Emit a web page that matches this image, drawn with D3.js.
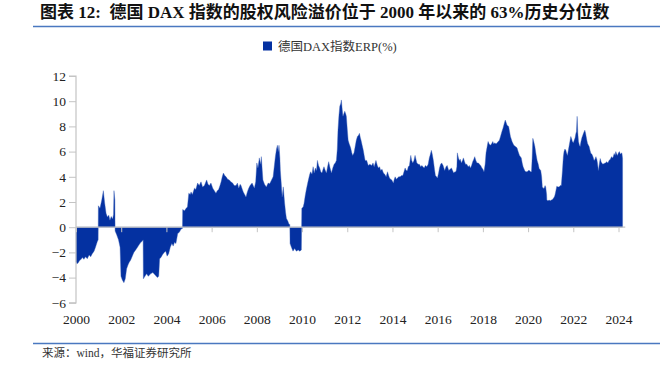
<!DOCTYPE html>
<html>
<head>
<meta charset="utf-8">
<script src="https://cdn.jsdelivr.net/npm/d3@7/dist/d3.min.js"></script>
<style>
  html, body { margin: 0; padding: 0; background: #fff; }
  svg { display: block; }
  text { font-family: "Liberation Serif", "Noto Sans CJK SC", serif; }
</style>
</head>
<body>
<svg id="chart" width="670" height="366"></svg>
<script>
// ---- data (decimal year, ERP %) ----
const dates = [
2000.00,2000.04,2000.09,2000.14,2000.18,2000.23,2000.28,2000.35,2000.42,2000.50,2000.58,2000.65,2000.72,2000.80,2000.87,2000.94,2000.98,
2000.99,2001.06,2001.14,2001.21,2001.27,2001.33,2001.39,2001.45,2001.50,2001.56,2001.62,2001.66,2001.68,2001.72,
2001.73,2001.80,2001.88,2001.95,2001.99,2002.05,2002.12,2002.18,2002.24,2002.30,2002.35,2002.42,2002.49,2002.56,2002.64,2002.72,2002.79,2002.87,2002.94,2002.97,
2002.98,2003.05,2003.12,2003.20,2003.30,2003.40,2003.50,2003.60,2003.66,2003.70,2003.76,2003.82,2003.90,2003.97,
2004.03,2004.10,2004.17,2004.24,2004.30,2004.36,2004.42,2004.50,2004.57,2004.65,2004.71,
2004.72,2004.80,2004.87,2004.93,2004.99,2005.05,2005.09,2005.15,2005.24,2005.30,2005.38,2005.45,2005.53,2005.60,2005.68,2005.78,2005.84,2005.90,2005.97,
2006.05,2006.12,2006.19,2006.25,2006.31,2006.37,2006.42,2006.47,2006.52,2006.58,2006.64,2006.71,2006.78,2006.85,2006.93,
2007.00,2007.08,2007.14,2007.20,2007.26,2007.30,2007.36,2007.40,2007.46,2007.52,2007.58,2007.64,2007.70,2007.79,2007.84,2007.89,2007.95,
2008.00,2008.05,2008.11,2008.17,2008.20,2008.24,2008.27,2008.34,2008.42,2008.50,2008.57,2008.64,2008.72,2008.77,2008.82,2008.87,2008.91,2008.95,2008.98,
2009.02,2009.04,2009.08,2009.12,2009.17,2009.23,2009.27,2009.31,2009.37,2009.41,2009.46,
2009.47,2009.53,2009.60,2009.67,2009.75,2009.83,2009.90,2009.97,
2009.99,2010.05,2010.09,2010.14,2010.19,2010.25,2010.30,2010.34,2010.38,2010.44,2010.49,2010.54,2010.59,2010.64,2010.68,2010.73,2010.78,2010.83,2010.88,2010.93,2010.97,
2011.03,2011.08,2011.13,2011.18,2011.24,2011.30,2011.36,2011.42,2011.47,2011.52,2011.56,2011.59,2011.63,2011.67,2011.71,2011.74,2011.78,2011.81,2011.85,2011.89,2011.93,2011.96,
2012.00,2012.04,2012.09,2012.15,2012.20,2012.24,2012.30,2012.35,2012.40,2012.45,2012.50,2012.54,2012.58,2012.61,2012.66,2012.71,2012.75,2012.79,2012.86,2012.93,
2013.00,2013.08,2013.14,2013.19,2013.27,2013.33,2013.38,2013.43,2013.48,2013.54,2013.60,2013.66,2013.72,2013.78,2013.83,2013.87,2013.92,2013.97,
2014.04,2014.08,2014.12,2014.17,2014.22,2014.28,2014.34,2014.40,2014.46,2014.51,2014.56,2014.61,2014.66,2014.70,2014.75,2014.81,2014.85,2014.90,2014.95,
2015.00,2015.04,2015.08,2015.14,2015.19,2015.25,2015.30,2015.35,2015.40,2015.46,2015.52,2015.58,2015.63,2015.68,2015.72,2015.76,2015.81,2015.86,2015.90,2015.95,2015.99,
2016.04,2016.08,2016.13,2016.18,2016.24,2016.31,2016.37,2016.42,2016.49,2016.55,2016.61,2016.66,2016.71,2016.76,2016.81,2016.85,2016.87,2016.92,2016.96,
2017.00,2017.05,2017.10,2017.14,2017.19,2017.23,2017.29,2017.35,2017.40,2017.45,2017.50,2017.55,2017.60,2017.64,2017.69,2017.74,2017.80,2017.85,2017.90,2017.96,
2018.00,2018.05,2018.10,2018.14,2018.19,2018.23,2018.28,2018.33,2018.38,2018.44,2018.48,2018.53,2018.58,2018.63,2018.68,2018.73,2018.78,2018.82,2018.86,2018.89,2018.94,2018.99,
2019.03,2019.07,2019.14,2019.18,2019.22,2019.29,2019.37,2019.44,2019.51,2019.56,2019.62,2019.70,2019.74,2019.78,2019.85,2019.90,2019.96,
2020.01,2020.06,2020.11,2020.15,2020.18,2020.21,2020.25,2020.30,2020.35,2020.40,2020.45,2020.49,2020.56,2020.60,2020.63,2020.67,2020.71,2020.75,2020.78,2020.82,2020.83,2020.88,2020.93,2020.98,
2021.03,2021.08,2021.12,2021.16,2021.19,2021.23,2021.27,2021.32,2021.37,2021.42,2021.47,2021.52,2021.56,2021.59,2021.63,2021.67,2021.70,2021.74,2021.78,2021.81,2021.85,2021.89,2021.93,2021.96,
2022.00,2022.04,2022.08,2022.11,2022.14,2022.17,2022.20,2022.23,2022.27,2022.30,2022.34,2022.38,2022.42,2022.45,2022.51,2022.54,2022.57,2022.60,2022.63,2022.67,2022.70,2022.74,2022.78,2022.82,2022.85,2022.89,2022.92,2022.96,
2023.00,2023.04,2023.07,2023.11,2023.15,2023.19,2023.23,2023.26,2023.31,2023.36,2023.42,2023.48,2023.53,2023.58,2023.64,2023.69,2023.75,2023.81,2023.85,2023.88,2023.92,2023.95,
2024.00,2024.04,2024.08,2024.12,2024.15,2024.18
];
const erp = [
-2.75,-2.9,-2.85,-2.7,-2.6,-2.55,-2.4,-2.55,-2.35,-2.5,-2.2,-2.35,-2.1,-1.9,-1.55,-1.15,-1.0,
1.7,1.5,2.15,2.9,1.9,1.1,0.8,0.95,0.55,0.85,0.65,1.0,2.9,2.15,
-0.3,-0.6,-1.0,-1.6,-3.9,-4.2,-4.4,-4.1,-3.3,-3.0,-2.8,-2.6,-2.3,-2.0,-1.8,-1.6,-1.4,-1.2,-1.1,-1.0,
-4.1,-3.9,-3.7,-3.9,-3.7,-3.6,-3.8,-4.0,-3.9,-2.5,-2.4,-2.2,-2.0,-1.9,
-2.3,-2.1,-1.6,-1.3,-1.5,-1.2,-1.3,-0.5,-0.4,-0.15,-0.1,
1.4,1.3,1.5,1.6,2.7,2.6,2.8,2.6,3.1,3.0,3.5,3.3,3.6,3.2,3.3,3.75,3.4,3.3,3.5,
3.1,2.9,2.7,2.9,3.0,3.3,3.6,4.0,4.3,4.1,4.0,3.8,3.75,3.6,3.5,
3.3,3.3,3.5,3.1,3.4,3.3,3.0,2.8,2.6,2.4,2.8,3.1,3.3,3.5,3.3,3.1,3.6,
5.1,4.7,5.5,5.0,5.6,4.5,3.75,3.4,3.2,3.5,3.45,3.7,4.0,4.8,5.6,6.2,6.5,6.0,6.5,
5.5,4.5,3.5,2.4,3.2,1.9,1.2,0.7,0.5,0.3,0.2,
-1.3,-1.6,-1.9,-1.7,-1.9,-1.8,-1.9,-1.8,
1.5,1.6,1.9,2.5,3.0,3.5,3.9,4.2,4.4,4.2,4.8,4.3,4.7,4.5,5.3,4.9,4.7,4.4,4.3,4.6,4.8,
4.5,4.3,4.8,5.2,4.7,4.3,4.7,5.0,5.1,5.3,6.2,7.7,8.8,9.6,9.8,10.1,9.3,8.8,9.0,9.2,9.0,8.8,
7.8,6.9,6.6,6.3,5.9,5.7,5.9,6.4,6.9,7.2,7.3,7.45,7.1,6.9,6.5,6.1,5.7,5.3,5.3,4.9,
5.0,4.9,5.1,4.8,5.3,4.9,4.7,4.8,4.5,4.6,4.3,4.2,4.0,4.4,4.1,3.9,3.8,3.75,
3.5,3.8,4.0,3.8,3.9,4.0,4.0,4.1,4.1,4.4,4.7,4.5,4.5,4.8,4.9,5.7,5.3,5.1,5.3,
5.7,5.4,5.1,5.0,5.0,4.8,4.9,4.8,4.7,4.9,4.8,5.0,5.5,5.8,6.1,5.8,5.3,4.6,4.1,4.0,3.9,
4.3,4.7,5.0,5.1,4.9,4.5,4.8,4.9,4.5,4.6,4.7,4.5,4.3,4.4,4.4,4.8,5.9,5.5,5.3,
5.4,5.1,5.3,5.5,5.2,5.0,5.0,4.8,4.9,4.7,4.9,5.2,5.4,5.6,5.3,5.1,5.1,5.0,4.9,4.7,
4.6,4.4,5.0,5.9,6.4,6.8,6.6,6.5,6.6,6.8,6.6,6.7,6.6,6.7,6.8,6.9,7.2,7.45,7.7,7.85,8.2,8.5,
8.3,8.1,8.0,7.6,7.2,6.8,6.5,6.4,6.3,6.0,5.7,5.5,5.1,4.8,4.5,4.4,4.4,
4.5,4.5,4.4,4.4,5.5,7.05,6.8,6.4,5.8,5.3,5.0,4.65,4.5,4.0,3.2,3.1,3.1,3.3,3.2,2.6,2.15,2.1,2.15,2.1,
2.15,2.2,2.3,2.4,2.55,2.9,3.25,3.2,3.2,3.3,3.3,4.5,5.6,6.0,6.2,6.1,5.9,5.7,6.1,6.4,6.8,7.2,7.0,6.8,
6.7,6.9,7.1,7.4,7.6,8.8,7.5,6.8,6.5,6.4,6.8,7.1,7.3,7.45,7.7,7.5,7.2,6.9,6.65,6.5,6.4,6.1,5.85,5.8,5.7,5.5,5.3,5.4,
5.6,5.4,5.1,4.5,5.0,5.45,5.2,5.1,5.0,5.05,5.1,5.2,5.1,5.3,5.4,5.6,5.5,5.85,5.7,6.0,5.8,5.7,
5.9,6.0,5.8,5.85,5.9,5.45
];
const yTicks = [-6, -4, -2, 0, 2, 4, 6, 8, 10, 12];
const xTicks = [2000, 2002, 2004, 2006, 2008, 2010, 2012, 2014, 2016, 2018, 2020, 2022, 2024];
const seriesName = "德国DAX指数ERP(%)";
const titleText = "图表 12:  德国 DAX 指数的股权风险溢价位于 2000 年以来的 63%历史分位数";
const sourceText = "来源：wind，华福证券研究所";

const data = dates.map((d, i) => ({ t: d, v: erp[i] }));

const svg = d3.select("#chart");
const fill = "#0431a1";
const accent = "#4a78c0";
const axisGray = "#c4c4c4";

const x = d3.scaleLinear().domain([2000, 2024]).range([76, 618.5]);
const y = d3.scaleLinear().domain([-6, 12]).range([302.8, 76]);

// title
svg.append("text").attr("x", 40).attr("y", 18)
  .attr("font-size", 17).attr("font-weight", "bold").attr("fill", "#111")
  .attr("xml:space", "preserve")
  .text(titleText);
svg.append("line").attr("x1", 33).attr("x2", 660).attr("y1", 26.5).attr("y2", 26.5)
  .attr("stroke", accent).attr("stroke-width", 1.5);

// legend
svg.append("rect").attr("x", 263).attr("y", 41.5).attr("width", 9).attr("height", 9).attr("fill", fill);
svg.append("text").attr("x", 278).attr("y", 51).attr("font-size", 12.5).attr("fill", "#333").text(seriesName);

// area
const area = d3.area()
  .x(d => x(d.t))
  .y0(y(0))
  .y1(d => y(d.v));
svg.append("path").datum(data).attr("d", area).attr("fill", fill)
  .attr("stroke", "#3a5fb8").attr("stroke-width", 0.4).attr("stroke-linejoin", "round");

// y axis
const yAxis = svg.append("g").attr("transform", `translate(${x(2000)},0)`)
  .call(d3.axisLeft(y).tickValues(yTicks).tickSize(7).tickPadding(3).tickFormat(d3.format("d")));
yAxis.select(".domain").attr("stroke", axisGray).attr("stroke-width", 1.2).attr("d", `M-7,${y(12)}H0V${y(-6)}H-7`);
yAxis.selectAll(".tick line").attr("stroke", axisGray);
yAxis.selectAll(".tick text").attr("font-size", 13.5).attr("fill", "#222")
  .style("font-family", '"Liberation Serif", serif');

// zero axis with ticks
const xAxis = svg.append("g").attr("transform", `translate(0,${y(0)})`)
  .call(d3.axisBottom(x).tickValues(xTicks).tickSize(5).tickFormat(""));
xAxis.select(".domain").attr("stroke", axisGray).attr("stroke-width", 1.2)
  .attr("d", `M${x(2000)},0H${x(2024.3)}`);
xAxis.selectAll(".tick line").attr("stroke", axisGray);

// x labels at bottom
const xLab = svg.append("g").attr("transform", `translate(0,${y(-6)})`)
  .call(d3.axisBottom(x).tickValues(xTicks).tickSize(0).tickPadding(12).tickFormat(d3.format("d")));
xLab.select(".domain").remove();
xLab.selectAll(".tick text").attr("font-size", 13.5).attr("fill", "#222")
  .style("font-family", '"Liberation Serif", serif');

// bottom line + source
svg.append("line").attr("x1", 33).attr("x2", 660).attr("y1", 343.5).attr("y2", 343.5)
  .attr("stroke", accent).attr("stroke-width", 1.5);
svg.append("text").attr("x", 42).attr("y", 357).attr("font-size", 11.5).attr("fill", "#333").text(sourceText);
</script>
</body>
</html>
